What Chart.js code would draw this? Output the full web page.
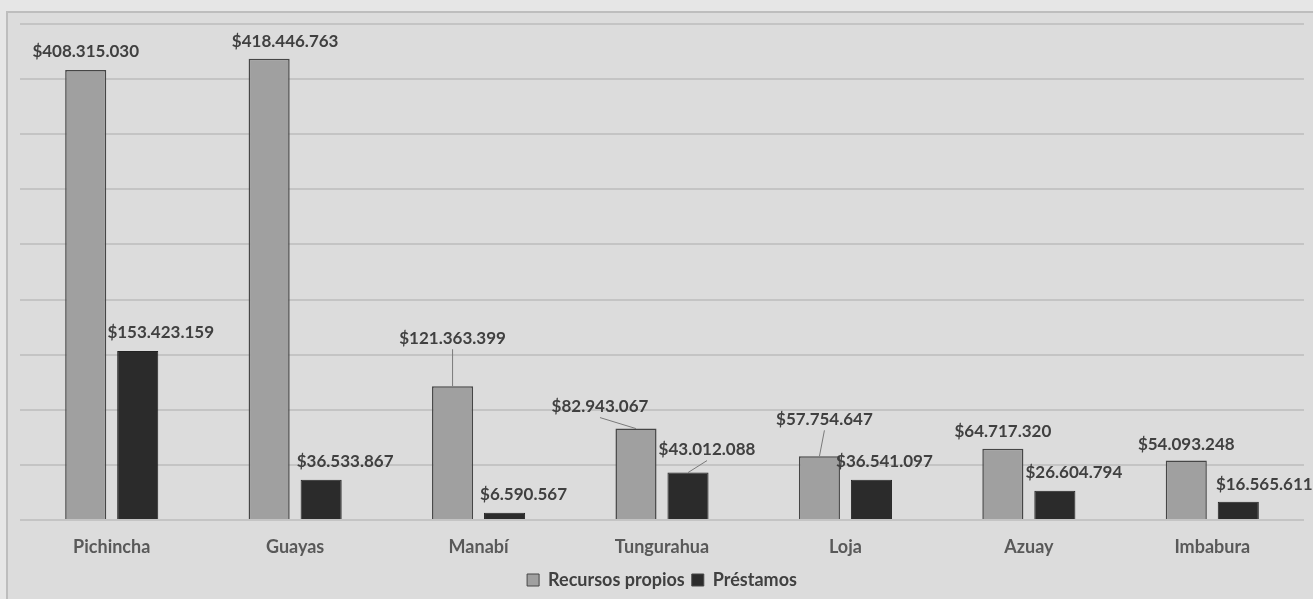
<!DOCTYPE html>
<html>
<head>
<meta charset="utf-8">
<script src="https://cdn.jsdelivr.net/npm/chart.js@4.4.1/dist/chart.umd.min.js"></script>
<style>
    body { margin: 0; background: #e6e6e6; }
    #wrap { width: 1313px; height: 599px; }
</style>
</head>
<body>
<div id="wrap"><canvas id="fundsChart" width="1313" height="599"></canvas></div>
<script>
// --- Data ---
const provincias = ['Pichincha', 'Guayas', 'Manabí', 'Tungurahua', 'Loja', 'Azuay', 'Imbabura'];
const recursosPropios = [408315030, 418446763, 121363399, 82943067, 57754647, 64717320, 54093248];
const prestamos = [153423159, 36533867, 6590567, 43012088, 36541097, 26604794, 16565611];
const seriesNames = ['Recursos propios', 'Préstamos'];

// label placement (dx from bar centre, dy above bar top, leader line)
const labelPlacement = [
    [[0, 18], [16, 17], [0, 48, true], [-36, 22, true], [5, 37, true], [0, 17], [0, 16]],
    [[23, 18], [24, 18], [19, 18], [19, 23, true], [13, 18], [19, 18], [26, 17]]
];

const TEXT_DARK = '#404040';
const FONT = 'Lato';

function money(v) {
    return '$' + String(v).replace(/\B(?=(\d{3})+(?!\d))/g, '.');
}

// --- Plugins ---
const framePlugin = {
    id: 'frame',
    beforeDraw(chart) {
        const c = chart.ctx;
        c.save();
        c.fillStyle = '#e6e6e6';
        c.fillRect(0, 0, chart.width, chart.height);
        c.fillStyle = '#dcdcdc';
        c.fillRect(7, 12, chart.width, chart.height);
        c.strokeStyle = '#bdbdbd';
        c.lineWidth = 2;
        c.strokeRect(7, 12, chart.width + 10, chart.height + 10);
        c.restore();
    }
};

const valueLabels = {
    id: 'valueLabels',
    afterDatasetsDraw(chart) {
        const c = chart.ctx;
        c.save();
        c.font = `bold 17px ${FONT}`;
        c.fillStyle = TEXT_DARK;
        c.textAlign = 'center';
        c.textBaseline = 'middle';
        chart.data.datasets.forEach((ds, di) => {
            const meta = chart.getDatasetMeta(di);
            meta.data.forEach((bar, i) => {
                const [dx, dy, leader] = labelPlacement[di][i];
                const lx = bar.x + dx;
                const ly = bar.y - dy;
                if (leader) {
                    c.strokeStyle = '#7a7a7a';
                    c.lineWidth = 1;
                    c.beginPath();
                    c.moveTo(lx, ly + 11);
                    c.lineTo(bar.x, bar.y);
                    c.stroke();
                }
                c.fillText(money(ds.data[i]), lx, ly);
            });
        });
        c.restore();
    }
};

// --- Chart ---
const ctx = document.getElementById('fundsChart').getContext('2d');
const fundsChart = new Chart(ctx, {
    type: 'bar',
    data: {
        labels: provincias,
        datasets: [
            {
                label: seriesNames[0],
                data: recursosPropios,
                backgroundColor: '#a0a0a0',
                borderColor: '#464646',
                borderWidth: 1.5,
                categoryPercentage: 0.567,
                barPercentage: 0.79
            },
            {
                label: seriesNames[1],
                data: prestamos,
                backgroundColor: '#2b2b2b',
                borderColor: '#222222',
                borderWidth: 1,
                categoryPercentage: 0.567,
                barPercentage: 0.79
            }
        ]
    },
    options: {
        responsive: false,
        animation: false,
        layout: { padding: { left: 20, right: 9, top: 24, bottom: 0 } },
        plugins: {
            tooltip: { enabled: false },
            legend: {
                position: 'bottom',
                labels: {
                    color: TEXT_DARK,
                    font: { family: FONT, size: 18, weight: 'bold' },
                    boxWidth: 12,
                    boxHeight: 12,
                    padding: 7,
                    generateLabels(chart) {
                        return chart.data.datasets.map((ds, i) => ({
                            text: ds.label,
                            fillStyle: ds.backgroundColor,
                            strokeStyle: '#464646',
                            lineWidth: 1,
                            fontColor: TEXT_DARK,
                            datasetIndex: i
                        }));
                    }
                }
            }
        },
        scales: {
            x: {
                grid: { display: false },
                border: { display: false },
                ticks: { color: '#595959', font: { family: FONT, size: 18, weight: 'bold' }, padding: 8 },
                afterFit(scale) { scale.height = 44; }
            },
            y: {
                min: 0,
                max: 450000000,
                ticks: { display: false, stepSize: 50000000 },
                grid: { color: '#c4c4c4', lineWidth: 2, drawTicks: false },
                border: { display: false }
            }
        }
    },
    plugins: [framePlugin, valueLabels]
});
</script>
</body>
</html>
